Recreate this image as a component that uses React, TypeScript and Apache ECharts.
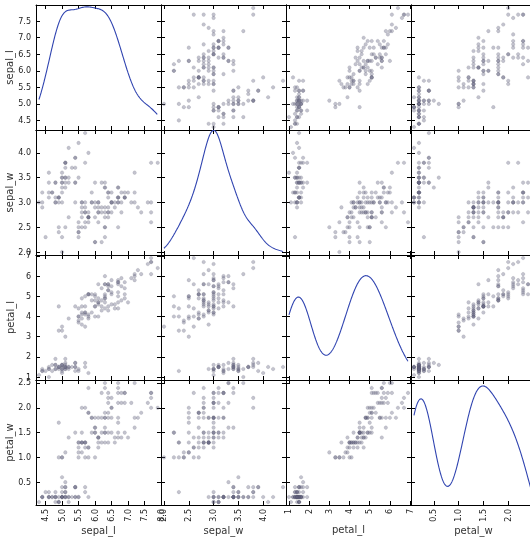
import React, { useEffect, useRef } from "react";
import * as echarts from "echarts";

// Iris measurements (150 flowers)
const SEPAL_L = [5.1,4.9,4.7,4.6,5.0,5.4,4.6,5.0,4.4,4.9,5.4,4.8,4.8,4.3,5.8,5.7,5.4,5.1,5.7,5.1,5.4,5.1,4.6,5.1,4.8,5.0,5.0,5.2,5.2,4.7,4.8,5.4,5.2,5.5,4.9,5.0,5.5,4.9,4.4,5.1,5.0,4.5,4.4,5.0,5.1,4.8,5.1,4.6,5.3,5.0,
7.0,6.4,6.9,5.5,6.5,5.7,6.3,4.9,6.6,5.2,5.0,5.9,6.0,6.1,5.6,6.7,5.6,5.8,6.2,5.6,5.9,6.1,6.3,6.1,6.4,6.6,6.8,6.7,6.0,5.7,5.5,5.5,5.8,6.0,5.4,6.0,6.7,6.3,5.6,5.5,5.5,6.1,5.8,5.0,5.6,5.7,5.7,6.2,5.1,5.7,
6.3,5.8,7.1,6.3,6.5,7.6,4.9,7.3,6.7,7.2,6.5,6.4,6.8,5.7,5.8,6.4,6.5,7.7,7.7,6.0,6.9,5.6,7.7,6.3,6.7,7.2,6.2,6.1,6.4,7.2,7.4,7.9,6.4,6.3,6.1,7.7,6.3,6.4,6.0,6.9,6.7,6.9,5.8,6.8,6.7,6.7,6.3,6.5,6.2,5.9];
const SEPAL_W = [3.5,3.0,3.2,3.1,3.6,3.9,3.4,3.4,2.9,3.1,3.7,3.4,3.0,3.0,4.0,4.4,3.9,3.5,3.8,3.8,3.4,3.7,3.6,3.3,3.4,3.0,3.4,3.5,3.4,3.2,3.1,3.4,4.1,4.2,3.1,3.2,3.5,3.1,3.0,3.4,3.5,2.3,3.2,3.5,3.8,3.0,3.8,3.2,3.7,3.3,
3.2,3.2,3.1,2.3,2.8,2.8,3.3,2.4,2.9,2.7,2.0,3.0,2.2,2.9,2.9,3.1,3.0,2.7,2.2,2.5,3.2,2.8,2.5,2.8,2.9,3.0,2.8,3.0,2.9,2.6,2.4,2.4,2.7,2.7,3.0,3.4,3.1,2.3,3.0,2.5,2.6,3.0,2.6,2.3,2.7,3.0,2.9,2.9,2.5,2.8,
3.3,2.7,3.0,2.9,3.0,3.0,2.5,2.9,2.5,3.6,3.2,2.7,3.0,2.5,2.8,3.2,3.0,3.8,2.6,2.2,3.2,2.8,2.8,2.7,3.3,3.2,2.8,3.0,2.8,3.0,2.8,3.8,2.8,2.8,2.6,3.0,3.4,3.1,3.0,3.1,3.1,3.1,2.7,3.2,3.3,3.0,2.5,3.0,3.4,3.0];
const PETAL_L = [1.4,1.4,1.3,1.5,1.4,1.7,1.4,1.5,1.4,1.5,1.5,1.6,1.4,1.1,1.2,1.5,1.3,1.4,1.7,1.5,1.7,1.5,1.0,1.7,1.9,1.6,1.6,1.5,1.4,1.6,1.6,1.5,1.5,1.4,1.5,1.2,1.3,1.5,1.3,1.5,1.3,1.3,1.3,1.6,1.9,1.4,1.6,1.4,1.5,1.4,
4.7,4.5,4.9,4.0,4.6,4.5,4.7,3.3,4.6,3.9,3.5,4.2,4.0,4.7,3.6,4.4,4.5,4.1,4.5,3.9,4.8,4.0,4.9,4.7,4.3,4.4,4.8,5.0,4.5,3.5,3.8,3.7,3.9,5.1,4.5,4.5,4.7,4.4,4.1,4.0,4.4,4.6,4.0,3.3,4.2,4.2,4.2,4.3,3.0,4.1,
6.0,5.1,5.9,5.6,5.8,6.6,4.5,6.3,5.8,6.1,5.1,5.3,5.5,5.0,5.1,5.3,5.5,6.7,6.9,5.0,5.7,4.9,6.7,4.9,5.7,6.0,4.8,4.9,5.6,5.8,6.1,6.4,5.6,5.1,5.6,6.1,5.6,5.5,4.8,5.4,5.6,5.1,5.1,5.9,5.7,5.2,5.0,5.2,5.4,5.1];
const PETAL_W = [0.2,0.2,0.2,0.2,0.2,0.4,0.3,0.2,0.2,0.1,0.2,0.2,0.1,0.1,0.2,0.4,0.4,0.3,0.3,0.3,0.2,0.4,0.2,0.5,0.2,0.2,0.4,0.2,0.2,0.2,0.2,0.4,0.1,0.2,0.1,0.2,0.2,0.1,0.2,0.2,0.3,0.3,0.2,0.6,0.4,0.3,0.2,0.2,0.2,0.2,
1.4,1.5,1.5,1.3,1.5,1.3,1.6,1.0,1.3,1.4,1.0,1.5,1.0,1.4,1.3,1.4,1.5,1.0,1.5,1.1,1.8,1.3,1.5,1.2,1.3,1.4,1.4,1.7,1.5,1.0,1.1,1.0,1.2,1.6,1.5,1.6,1.5,1.3,1.3,1.3,1.2,1.4,1.2,1.0,1.3,1.2,1.3,1.3,1.1,1.3,
2.5,1.9,2.1,1.8,2.2,2.1,1.7,1.8,1.8,2.5,2.0,1.9,2.1,2.0,2.4,2.3,1.8,2.2,2.3,1.5,2.3,2.0,2.0,1.8,2.1,1.8,1.8,1.8,2.1,1.6,1.9,2.0,2.2,1.5,1.4,2.3,2.4,1.8,1.8,2.1,2.4,2.3,1.9,2.3,2.5,2.3,1.9,2.0,2.3,1.8];

const NAMES = ["sepal_l", "sepal_w", "petal_l", "petal_w"];
const COLUMNS = [SEPAL_L, SEPAL_W, PETAL_L, PETAL_W];

// tick marks and tick labels
const X_TICKS = [
  [4.5, 5.0, 5.5, 6.0, 6.5, 7.0, 7.5, 8.0],
  [2.0, 2.5, 3.0, 3.5, 4.0],
  [1, 2, 3, 4, 5, 6, 7],
  [0.5, 1.0, 1.5, 2.0, 2.5],
];
const X_LABELS = [
  [4.5, 5.0, 5.5, 6.0, 6.5, 7.0, 7.5, 8.0],
  [2.0, 2.5, 3.0, 3.5, 4.0],
  [1, 2, 3, 4, 5, 6, 7],
  [0.5, 1.0, 1.5, 2.0],
];
const Y_TICKS = [
  [4.5, 5.0, 5.5, 6.0, 6.5, 7.0, 7.5],
  [2.0, 2.5, 3.0, 3.5, 4.0],
  [1, 2, 3, 4, 5, 6, 7],
  [0.5, 1.0, 1.5, 2.0, 2.5],
];
const DECIMALS = [1, 1, 0, 1];

function axisRange(v: number[]): [number, number] {
  const mn = Math.min(...v), mx = Math.max(...v);
  const ext = (mx - mn) * 0.05 / 2;
  return [mn - ext, mx + ext];
}

function kde(v: number[], pts: number): [number, number][] {
  const n = v.length;
  const mean = v.reduce((a, b) => a + b, 0) / n;
  const sd = Math.sqrt(v.reduce((a, b) => a + (b - mean) * (b - mean), 0) / (n - 1));
  const bw = sd * Math.pow(n, -0.2);
  const mn = Math.min(...v), mx = Math.max(...v);
  const out: [number, number][] = [];
  for (let i = 0; i < pts; i++) {
    const x = mn + (mx - mn) * i / (pts - 1);
    let s = 0;
    for (const xi of v) { const z = (x - xi) / bw; s += Math.exp(-0.5 * z * z); }
    out.push([x, s / (n * bw * Math.sqrt(2 * Math.PI))]);
  }
  return out;
}

function roundLimits(lo: number, hi: number): [number, number] {
  const raw = (hi - lo) / 9;
  const mag = Math.pow(10, Math.floor(Math.log10(raw)));
  const step = [1, 2, 5, 10].map((s) => s * mag).find((s) => s >= raw * (1 - 1e-9)) as number;
  return [Math.floor(lo / step + 1e-9) * step, Math.ceil(hi / step - 1e-9) * step];
}

export default function App() {
  const ref = useRef<HTMLDivElement>(null);
  useEffect(() => {
    document.body.style.margin = "0";
    document.body.style.overflow = "hidden";
    const chart = echarts.init(ref.current!, undefined, { renderer: "svg" });
    const L = 36, T = 5, W = 125, H = 125;
    const ranges = COLUMNS.map(axisRange);
    // x ranges: include a tick that lies within half a pixel of the edge
    const xRanges = ranges.map((rg, i) => {
      const last = X_TICKS[i][X_TICKS[i].length - 1];
      const tol = (rg[1] - rg[0]) * 0.004;
      return [rg[0], last > rg[1] && last - rg[1] < tol ? last : rg[1]];
    });
    const grid: any[] = [], xAxis: any[] = [], yAxis: any[] = [], series: any[] = [];
    const lineStyle = { color: "#000", width: 1 };
    const fmt = (d: number) => (val: number) => val.toFixed(d);
    let g = 0;
    for (let r = 0; r < 4; r++) {
      for (let c = 0; c < 4; c++) {
        grid.push({ left: L + c * W, top: T + r * H, width: W, height: H, show: false });
        const xb = xAxis.length;
        for (const pos of ["bottom", "top"]) {
          const isLab = pos === "bottom" && r === 3;
          xAxis.push({
            type: "value", gridIndex: g, position: pos,
            min: xRanges[c][0], max: xRanges[c][1],
            axisLine: { show: true, onZero: false, lineStyle },
            axisTick: { show: true, inside: true, length: 4, customValues: X_TICKS[c], lineStyle },
            axisLabel: {
              show: isLab, customValues: X_LABELS[c], rotate: 90, fontSize: 8, margin: 4,
              color: "#222", fontFamily: "DejaVu Sans", formatter: fmt(DECIMALS[c]),
              showMinLabel: true, showMaxLabel: true,
            },
            splitLine: { show: false },
            name: isLab ? NAMES[c] : "", nameLocation: "middle", nameGap: 19,
            nameTextStyle: { fontSize: 10, color: "#333", fontFamily: "DejaVu Sans" },
          });
        }
        const yl = yAxis.length;
        for (const pos of ["left", "right"]) {
          const isLab = pos === "left" && c === 0;
          yAxis.push({
            type: "value", gridIndex: g, position: pos,
            min: ranges[r][0], max: ranges[r][1],
            axisLine: { show: true, onZero: false, lineStyle },
            axisTick: { show: true, inside: true, length: 4, customValues: Y_TICKS[r], lineStyle },
            axisLabel: {
              show: isLab, customValues: Y_TICKS[r], fontSize: 8, margin: 5,
              color: "#222", fontFamily: "DejaVu Sans", formatter: fmt(DECIMALS[r]),
              showMinLabel: true, showMaxLabel: true,
            },
            splitLine: { show: false },
            name: isLab ? NAMES[r] : "", nameLocation: "middle", nameGap: 21, nameRotate: 90,
            nameTextStyle: { fontSize: 10, color: "#333", fontFamily: "DejaVu Sans" },
          });
        }
        if (r === c) {
          const dens = kde(COLUMNS[c], 300);
          const ds = dens.map((p) => p[1]);
          const [dl, dh] = roundLimits(Math.min(...ds), Math.max(...ds));
          const yd = yAxis.length;
          yAxis.push({ type: "value", gridIndex: g, position: "right", show: false, min: dl, max: dh, splitLine: { show: false } });
          series.push({
            type: "line", xAxisIndex: xb, yAxisIndex: yd, data: dens, showSymbol: false,
            lineStyle: { color: "#3044b0", width: 1.1 }, silent: true,
          });
        } else {
          const pts = COLUMNS[c].map((x, i) => [x, COLUMNS[r][i]]);
          series.push({
            type: "scatter", xAxisIndex: xb, yAxisIndex: yl, data: pts, symbolSize: 3.6,
            itemStyle: { color: "rgba(100,100,128,0.48)", borderColor: "rgba(60,60,80,0.35)", borderWidth: 0.4 },
            silent: true,
          });
        }
        g++;
      }
    }
    chart.setOption({ animation: false, grid, xAxis, yAxis, series });
    return () => chart.dispose();
  }, []);
  return <div ref={ref} style={{ position: "fixed", left: 0, top: 0, width: 545, height: 537 }} />;
}
